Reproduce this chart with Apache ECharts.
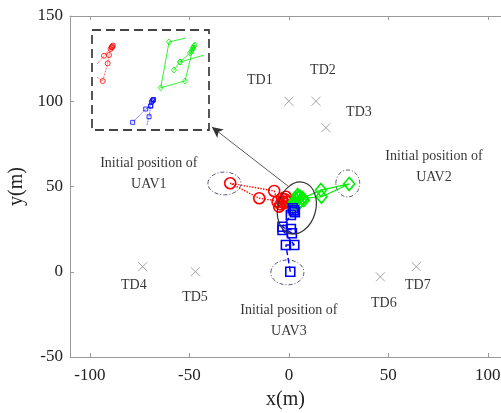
<!DOCTYPE html>
<html><head><meta charset="utf-8">
<script src="https://cdn.jsdelivr.net/npm/echarts@6/dist/echarts.min.js"></script>
<style>html,body{margin:0;padding:0;background:#fff}#c{width:501px;height:413px}</style>
</head><body><div id="c"></div>
<script>
// ---- data ----
const xTickValues = [-100, -50, 0, 50, 100];
const yTickValues = [-50, 0, 50, 100, 150];
const targets = [[0,100],[13.6,100],[18.6,84.5],[-73.5,3],[-47,0],[46,-3],[64,3]];
const targetNames = ['TD1','TD2','TD3','TD4','TD5','TD6','TD7'];
const targetLabelPos = [[-14.6,112.3],[17.1,118.2],[35.2,93.7],[-77.9,-7.8],[-47.2,-14.8],[47.7,-18.3],[64.8,-7.8]];
const notes = ['Initial position of\nUAV1','Initial position of\nUAV2','Initial position of\nUAV3'];
const notePos = [[-70.4,57.3],[72.9,61.4],[0,-28.9]];
const redPath = [[-3.2,41.1],[-14.9,43.1],[-29.5,51.9],[-7.4,47.4],[-5.7,41.1],[-3.2,41.1],[-1.5,44.0],[-4.9,38.2],[-2.5,40.3],[-2,42.5],[-3.5,43],[-4,39.5],[-1,41]];
const greenPath = [[6.9,43.1],[16.1,47.9],[30.3,51.5],[16.4,44.0],[6.9,43.1],[4.4,45.0],[1.9,39.1],[5,40.3],[7.5,42],[3.5,42.5],[5.5,44],[2.5,41],[6,41.5],[4.5,43.5],[3,40]];
const bluePath = [[0.7,0],[-1.5,15.7],[2.7,15.7],[-3.2,24.5],[1,25.1],[1.5,22.6],[-3.2,26.4],[1,33.3],[3,35],[1.9,37.2],[2.5,36]];
const startRings = [[-32.4,51.8,8.3,6.7],[29.6,51.8,6.0,7.9],[-0.75,-0.4,8.3,7.3]]; // cx, cy, rx, ry (data units)
const zoomRing = [4.0,37.4,9.5,15.5]; // cx, cy, rx, ry
const arrowFromTo = [[-0.5,50.3],[-38.7,84.9]];
// inset (zoomed) view
const insetX = [-6, 6];
const insetY = [33, 45];
const insetRed = [
  [[-5.46,39.32,0],[-4.90,38.88],[-4.39,41.0],[-4.26,42.0],[-3.98,42.92]],
  [[-5.46,40.92,0],[-4.77,41.91],[-3.98,42.92],[-3.85,43.14],[-4.10,42.72],[-3.92,43.0]]
];
const insetGreen = [
  [[3.64,44.04,0],[1.90,43.56],[1.05,38.07],[3.54,38.88],[4.36,42.84]],
  [[2.41,40.2],[3.03,41.16],[4.05,42.24],[4.36,42.84],[4.46,43.08],[4.26,42.6],[4.55,43.2],[4.2,42.4]],
  [[3.03,41.16],[5.42,41.97,0]]
];
const insetBlue = [
  [[-1.83,33.92],[-0.49,35.52],[0.02,35.88],[0.23,36.51],[0.31,36.66],[0.10,36.36],[0.25,36.6]],
  [[-0.36,33.6,0],[-0.15,34.59],[0.02,35.88]]
];

const FONT = 'Liberation Serif';
const RED = '#ff0000', GREEN = '#00ee00', BLUE = '#0000ff';
const AXC = '#9a9a9a';
const chart = echarts.init(document.getElementById('c'), null, {renderer:'canvas'});

function insetSeries(segs, color, symbol, size, type) {
  return segs.map(seg => ({
    type:'line', xAxisIndex:2, yAxisIndex:1, clip:true, animation:false, z:5,
    data: seg.map(p => p.length > 2 ? {value:[p[0],p[1]], symbol:'none'} : {value:p}),
    symbol: symbol, symbolSize: size,
    lineStyle:{color:color, width:0.8, type:type},
    itemStyle:{color:'transparent', borderColor:color, borderWidth:0.8}
  }));
}

const tickStyle = {show:true, inside:true, length:4, lineStyle:{color:AXC}};
const lineStyleAx = {show:true, onZero:false, lineStyle:{color:AXC, width:1}};

const option = {
  animation:false,
  backgroundColor:'#fff',
  grid:[
    {left:70, right:0, top:16, bottom:56, show:false, containLabel:false, outerBoundsMode:'none'},
    {left:92, top:30, width:117, height:100, show:false, containLabel:false, outerBoundsMode:'none'}
  ],
  xAxis:[
    {gridIndex:0, type:'value', min:-110, max:106.6, position:'bottom',
      name:'x(m)', nameLocation:'middle', nameGap:33,
      nameTextStyle:{fontFamily:FONT, fontSize:20, color:'#222'},
      axisLine:lineStyleAx, splitLine:{show:false},
      axisLabel:{customValues:xTickValues, fontFamily:FONT, fontSize:17, color:'#222', margin:10},
      axisTick:Object.assign({customValues:xTickValues}, tickStyle)},
    {gridIndex:0, type:'value', min:-110, max:106.6, position:'top',
      axisLine:lineStyleAx, splitLine:{show:false},
      axisLabel:{show:false},
      axisTick:Object.assign({customValues:xTickValues}, tickStyle)},
    {gridIndex:1, type:'value', min:insetX[0], max:insetX[1], show:false}
  ],
  yAxis:[
    {gridIndex:0, type:'value', min:-50, max:150, position:'left',
      name:'y(m)', nameLocation:'middle', nameGap:38,
      nameTextStyle:{fontFamily:FONT, fontSize:20, color:'#222'},
      axisLine:lineStyleAx, splitLine:{show:false},
      axisLabel:{customValues:yTickValues, fontFamily:FONT, fontSize:17, color:'#222', margin:7},
      axisTick:Object.assign({customValues:yTickValues}, tickStyle)},
    {gridIndex:1, type:'value', min:insetY[0], max:insetY[1], show:false}
  ],
  series:[
    {type:'scatter', xAxisIndex:0, yAxisIndex:0, data:targets, symbol:'path://M0,0L10,10M10,0L0,10',
      symbolSize:9, itemStyle:{color:'none', borderColor:'#8c8c8c', borderWidth:1}, z:3},
    {type:'scatter', xAxisIndex:0, yAxisIndex:0, symbolSize:1, itemStyle:{color:'transparent'},
      data: targetLabelPos.map((p,i)=>({value:p, name:targetNames[i]})),
      label:{show:true, position:'inside', formatter:'{b}', fontFamily:FONT, fontSize:14, color:'#000'}},
    {type:'scatter', xAxisIndex:0, yAxisIndex:0, symbolSize:1, itemStyle:{color:'transparent'},
      data: notePos.map((p,i)=>({value:p, name:notes[i]})),
      label:{show:true, position:'inside', formatter:'{b}', fontFamily:FONT, fontSize:14, lineHeight:21, color:'#000'}},
    {type:'line', xAxisIndex:0, yAxisIndex:0, data:redPath, symbol:'circle', symbolSize:11,
      lineStyle:{color:RED, width:1.4, type:'dotted'},
      itemStyle:{color:'transparent', borderColor:RED, borderWidth:1.6}, z:4},
    {type:'line', xAxisIndex:0, yAxisIndex:0, data:greenPath, symbol:'diamond', symbolSize:[11,13],
      lineStyle:{color:GREEN, width:1.2, type:'solid'},
      itemStyle:{color:'transparent', borderColor:GREEN, borderWidth:1.6}, z:4},
    {type:'line', xAxisIndex:0, yAxisIndex:0, data:bluePath, symbol:'rect', symbolSize:9,
      lineStyle:{color:BLUE, width:1.4, type:'dashed'},
      itemStyle:{color:'transparent', borderColor:BLUE, borderWidth:1.6}, z:4,
      markLine:{silent:true, symbol:['none','arrow'], symbolSize:[8,11], animation:false,
        label:{show:false}, lineStyle:{color:'#333', width:0.8, type:'solid'},
        data:[[{coord:arrowFromTo[0]},{coord:arrowFromTo[1]}]]}}
  ]
  .concat(insetSeries(insetRed, RED, 'circle', 5, 'dotted'))
  .concat(insetSeries(insetGreen, GREEN, 'diamond', [5,6], 'solid'))
  .concat(insetSeries(insetBlue, BLUE, 'rect', 4, 'dotted'))
};
chart.setOption(option);

function px(p){ return chart.convertToPixel({gridIndex:0}, p); }
const o = px([0,0]), u = px([1,1]);
const sx = u[0]-o[0], sy = o[1]-u[1];
const graphics = startRings.map(r => {
  const c = px([r[0], r[1]]);
  return {type:'ellipse', shape:{cx:c[0], cy:c[1], rx:r[2]*sx, ry:r[3]*sy},
    style:{fill:'none', stroke:'#55557a', lineWidth:1, lineDash:[4,2,1,2]}, z:10};
});
const zc = px([zoomRing[0], zoomRing[1]]);
graphics.push({type:'ellipse', x:zc[0], y:zc[1], rotation:-0.27,
  shape:{cx:0, cy:0, rx:zoomRing[2]*sx, ry:zoomRing[3]*sy},
  style:{fill:'none', stroke:'#333', lineWidth:1.2}, z:10});
const g1 = chart.getModel().getComponent('grid', 1).coordinateSystem.getRect();
graphics.push({type:'rect', shape:{x:g1.x, y:g1.y, width:g1.width, height:g1.height},
  style:{fill:'none', stroke:'#444', lineWidth:1.8, lineDash:[9,5]}, z:10});
chart.setOption({graphic:graphics});
</script></body></html>
